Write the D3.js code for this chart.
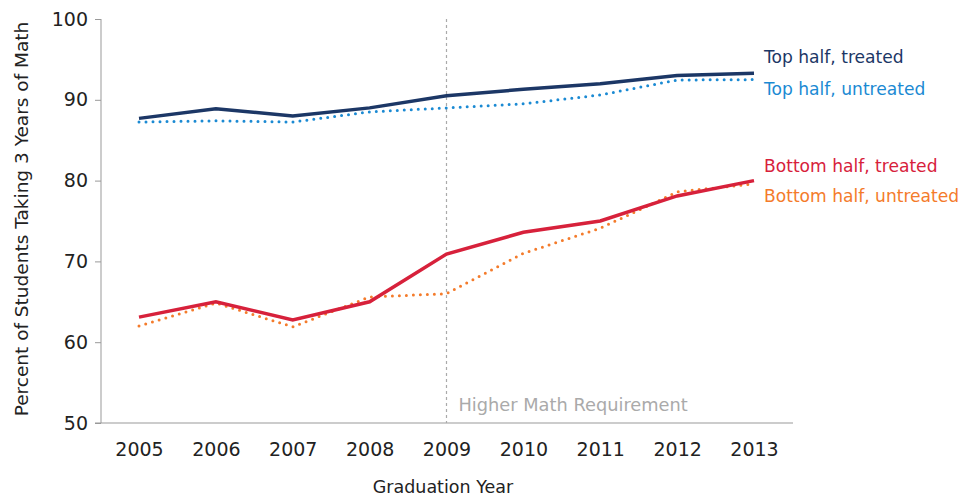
<!DOCTYPE html>
<html>
<head>
<meta charset="utf-8">
<script src="https://cdn.jsdelivr.net/npm/d3@7"></script>
<style>
  body { margin: 0; background: #fff; }
  text { font-family: "DejaVu Sans", "Liberation Sans", Arial, sans-serif; }
</style>
</head>
<body>
<div id="chart"></div>
<script>
/* Math requirement line chart */

const years = [2005, 2006, 2007, 2008, 2009, 2010, 2011, 2012, 2013];
const topTreated = [87.7, 88.9, 88.0, 89.0, 90.5, 91.3, 92.0, 93.0, 93.3];
const topUntreated = [87.25, 87.4, 87.25, 88.5, 89.0, 89.5, 90.6, 92.45, 92.5];
const bottomTreated = [63.1, 65.0, 62.75, 65.0, 70.9, 73.6, 75.0, 78.1, 80.0];
const bottomUntreated = [62.0, 64.85, 61.9, 65.6, 66.0, 71.0, 74.1, 78.6, 79.6];
const yTicks = [50, 60, 70, 80, 90, 100];

const series = [
    { name: "Top half, treated", values: topTreated, color: "#1c3766", dotted: false, labelY: 57 },
    { name: "Top half, untreated", values: topUntreated, color: "#1b8ad3", dotted: true, labelY: 89 },
    { name: "Bottom half, treated", values: bottomTreated, color: "#d7213b", dotted: false, labelY: 166 },
    { name: "Bottom half, untreated", values: bottomUntreated, color: "#f47b2b", dotted: true, labelY: 196 }
];

const width = 976, height = 498,
      margin = ({ top: 19, right: 183, bottom: 75, left: 101 });

let svg = d3.select("#chart")
    .append("svg")
    .attr("width", width)
    .attr("height", height);

let x = d3.scalePoint()
    .domain(years)
    .range([139, 754]);

let y = d3.scaleLinear()
    .domain([50, 100])
    .range([height - margin.bottom, margin.top]);

// y axis
let yAxis = svg.append("g")
    .attr("transform", `translate(${margin.left},0)`)
    .call(d3.axisLeft(y).tickValues(yTicks).tickSize(6).tickPadding(7));
yAxis.select(".domain").attr("stroke", "#999").attr("d", `M0,${y(100)}V${y(50)}`);
yAxis.selectAll(".tick line").attr("stroke", "#999");
yAxis.selectAll("text").attr("font-size", 19).attr("fill", "#222");

// x axis
let xAxis = svg.append("g")
    .attr("transform", `translate(0,${y(50)})`)
    .call(d3.axisBottom(x).tickSize(0).tickPadding(20).tickFormat(d3.format("d")));
xAxis.select(".domain").attr("stroke", "#999").attr("d", `M${margin.left - 6},0H793`);
xAxis.selectAll("text").attr("font-size", 19).attr("fill", "#222");

// requirement marker
svg.append("line")
    .attr("x1", x(2009)).attr("x2", x(2009))
    .attr("y1", y(100)).attr("y2", y(50))
    .attr("stroke", "#aaa")
    .attr("stroke-width", 1.2)
    .attr("stroke-dasharray", "3,3");

svg.append("text")
    .attr("x", x(2009) + 12)
    .attr("y", y(50) - 12)
    .attr("font-size", 17.8)
    .attr("fill", "#aaa")
    .text("Higher Math Requirement");

let line = d3.line()
    .x((d, i) => x(years[i]))
    .y(d => y(d));

// dotted lines first, solid on top
for (let s of series.filter(s => s.dotted)) {
    svg.append("path")
        .attr("d", line(s.values))
        .attr("fill", "none")
        .attr("stroke", s.color)
        .attr("stroke-width", 3)
        .attr("stroke-linecap", "round")
        .attr("stroke-dasharray", "0,7");
}
for (let s of series.filter(s => !s.dotted)) {
    svg.append("path")
        .attr("d", line(s.values))
        .attr("fill", "none")
        .attr("stroke", s.color)
        .attr("stroke-width", 3.5);
}

// series labels
for (let s of series) {
    svg.append("text")
        .attr("x", 764)
        .attr("y", s.labelY)
        .attr("dy", "0.35em")
        .attr("font-size", 17.1)
        .attr("fill", s.color)
        .text(s.name);
}

// axis titles
svg.append("text")
    .attr("transform", `translate(28,${(y(100) + y(50)) / 2 - 2}) rotate(-90)`)
    .attr("text-anchor", "middle")
    .attr("font-size", 18.5)
    .attr("fill", "#222")
    .text("Percent of Students Taking 3 Years of Math");

svg.append("text")
    .attr("x", 443)
    .attr("y", 493)
    .attr("text-anchor", "middle")
    .attr("font-size", 17.5)
    .attr("fill", "#222")
    .text("Graduation Year");
</script>
</body>
</html>
